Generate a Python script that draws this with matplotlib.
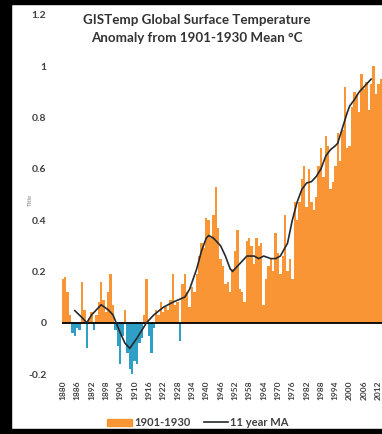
import matplotlib
matplotlib.use("Agg")
import matplotlib.pyplot as plt
from matplotlib.patches import Rectangle
from matplotlib.lines import Line2D

# --- Data --------------------------------------------------------------------
years = list(range(1880, 2015))
anomaly = [
    0.17, 0.18, 0.12, 0.03, -0.04, -0.05, -0.02, -0.03, 0.16, 0.05,   # 1880s
    -0.10, 0.02, 0.04, -0.03, 0.03, 0.08, 0.16, 0.09, 0.04, 0.12,     # 1890s
    0.19, 0.07, -0.03, -0.09, -0.16, -0.05, 0.05, -0.12, -0.18, -0.20,  # 1900s
    -0.15, -0.16, -0.08, -0.06, 0.03, 0.17, -0.05, -0.12, -0.02, 0.05,  # 1910s
    0.03, 0.08, 0.04, 0.06, 0.05, 0.09, 0.19, 0.07, 0.08, -0.07,      # 1920s
    0.15, 0.19, 0.12, 0.06, 0.14, 0.12, 0.19, 0.26, 0.31, 0.29,       # 1930s
    0.41, 0.40, 0.33, 0.42, 0.53, 0.37, 0.25, 0.22, 0.15, 0.16,       # 1940s
    0.12, 0.21, 0.28, 0.36, 0.13, 0.12, 0.08, 0.32, 0.33, 0.30,       # 1950s
    0.23, 0.33, 0.30, 0.31, 0.07, 0.17, 0.22, 0.25, 0.20, 0.35,       # 1960s
    0.27, 0.19, 0.26, 0.42, 0.20, 0.25, 0.17, 0.47, 0.40, 0.47,       # 1970s
    0.56, 0.61, 0.45, 0.60, 0.47, 0.44, 0.49, 0.61, 0.68, 0.57,       # 1980s
    0.73, 0.69, 0.52, 0.55, 0.61, 0.74, 0.63, 0.75, 0.92, 0.68,       # 1990s
    0.69, 0.84, 0.90, 0.89, 0.82, 0.97, 0.91, 0.94, 0.83, 0.93,       # 2000s
    1.00, 0.89, 0.93, 0.95, 1.02,                                     # 2010s
]

ma_years = [1885, 1888, 1890, 1892, 1893, 1896, 1899, 1901, 1904, 1906,
            1908, 1911, 1915, 1918, 1922, 1926, 1931, 1933, 1936, 1938,
            1940, 1941, 1943, 1946, 1948, 1950, 1951, 1953, 1955, 1957,
            1960, 1962, 1964, 1967, 1969, 1971, 1974, 1976, 1978, 1980,
            1982, 1984, 1986, 1988, 1990, 1992, 1994, 1995, 1997, 1999,
            2000, 2002, 2004, 2005, 2007, 2009]
ma_values = [0.047, 0.02, 0.0, 0.03, 0.04, 0.07, 0.05, 0.03, -0.04, -0.08,
             -0.10, -0.06, 0.0, 0.03, 0.06, 0.08, 0.10, 0.13, 0.21, 0.28,
             0.33, 0.34, 0.33, 0.30, 0.26, 0.21, 0.20, 0.22, 0.24, 0.26,
             0.26, 0.25, 0.26, 0.25, 0.25, 0.26, 0.31, 0.40, 0.47, 0.52,
             0.545, 0.55, 0.57, 0.60, 0.65, 0.675, 0.69, 0.70, 0.76, 0.82,
             0.845, 0.87, 0.90, 0.91, 0.93, 0.95]

tick_years = list(range(1880, 2013, 6))
y_ticks = [-0.2, 0, 0.2, 0.4, 0.6, 0.8, 1, 1.2]

# --- Style ---------------------------------------------------------------
ORANGE = "#f99535"
BLUE = "#2f9fc6"
TEXT = "#404040"
plt.rcParams["font.family"] = ["Lato", "DejaVu Sans"]

W, H = 382, 434
fig = plt.figure(figsize=(W / 100, H / 100), dpi=100)
fig.patch.set_facecolor("white")

# plot area: x from 61.7px to past the right edge, y from 15px to 374px
ax = fig.add_axes([61.7 / W, 1 - 374 / H, 325 / W, 359 / H])
colors = [ORANGE if v >= 0 else BLUE for v in anomaly]
ax.bar(years, anomaly, width=1.0, color=colors, linewidth=0)
ax.axhline(0, color="black", lw=1.3, zorder=3)
ax.plot(ma_years, ma_values, color="#262a2e", lw=1.2, zorder=4)

ax.set_xlim(1879.5, 2015.5)
ax.set_ylim(-0.2, 1.2)
ax.set_yticks(y_ticks)
ax.set_yticklabels(["-0.2", "0", "0.2", "0.4", "0.6", "0.8", "1", "1.2"])
ax.set_xticks(tick_years)
ax.set_xticklabels([str(y) for y in tick_years], rotation=90)
for s in ax.spines.values():
    s.set_visible(False)
ax.tick_params(axis="both", length=0, colors=TEXT)
ax.tick_params(axis="y", pad=11, labelsize=7.5)
ax.tick_params(axis="x", pad=5, labelsize=6)
for lab in ax.get_yticklabels() + ax.get_xticklabels():
    lab.set_fontweight("bold")

fig.text(30 / W, 1 - 200 / H, "Title", rotation=90, fontsize=4.5,
         color="#808080", ha="center", va="center")

fig.text(197 / W, 1 - 20 / H, "GISTemp Global Surface Temperature",
         ha="center", va="center", fontsize=9.6, color="#333333",
         fontweight="bold")
fig.text(197 / W, 1 - 38 / H, "Anomaly from 1901-1930 Mean \u00b0C",
         ha="center", va="center", fontsize=9.6, color="#333333",
         fontweight="bold")

handles = [Rectangle((0, 0), 1, 1, color=ORANGE),
           Line2D([0], [0], color="#262a2e", lw=1.2)]
fig.legend(handles, ["1901-1930", "11 year MA"], loc="center",
           bbox_to_anchor=(198 / W, 1 - 422.5 / H), ncol=2, frameon=False,
           handlelength=2.2, handleheight=0.6, handletextpad=0.2,
           columnspacing=1.2, prop={"weight": "bold", "size": 8})
for t in fig.legends[0].get_texts():
    t.set_color(TEXT)

# dark frame round the picture (top, left, bottom)
fig.patches.append(Rectangle((0, 1 - 3.5 / H), 1, 3.5 / H, transform=fig.transFigure,
                             color="black", zorder=10))
fig.patches.append(Rectangle((0, 0), 11 / W, 1, transform=fig.transFigure,
                             color="black", zorder=10))
fig.patches.append(Rectangle((0, 0), 1, 5.5 / H, transform=fig.transFigure,
                             color="black", zorder=10))

fig.savefig("out.png", dpi=100)
